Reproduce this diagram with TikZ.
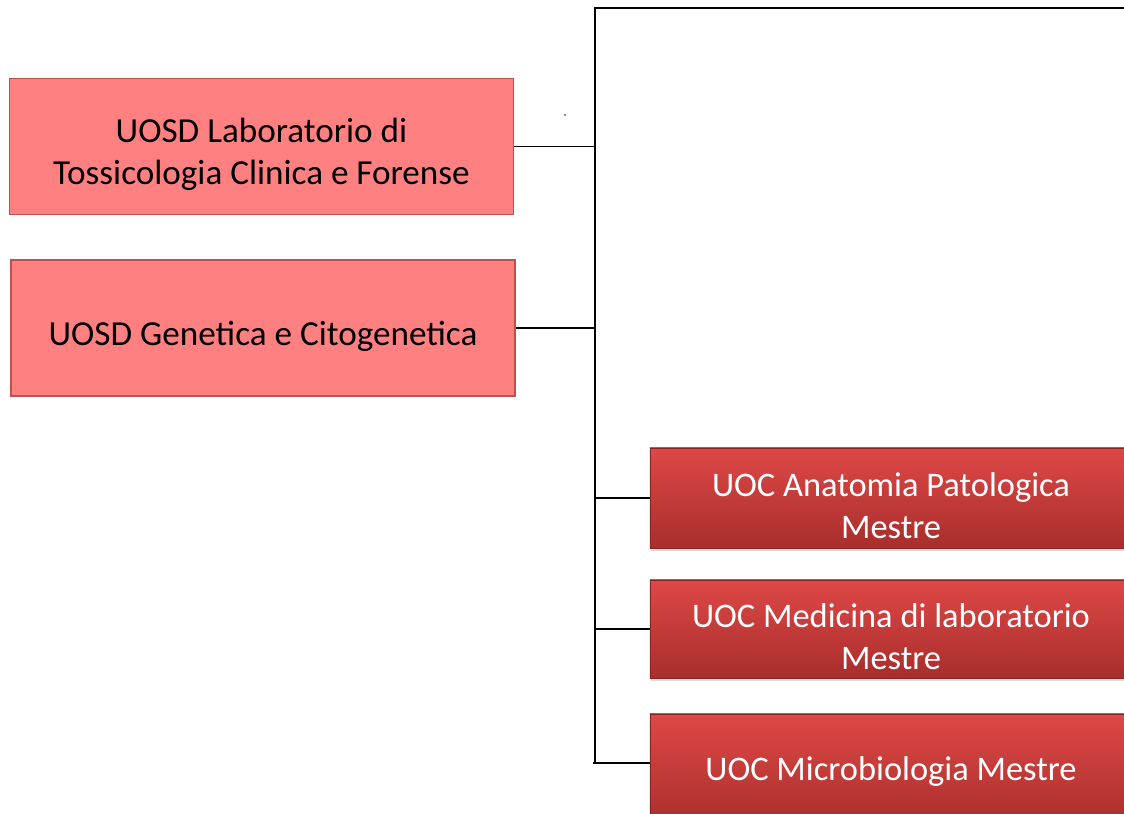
\documentclass[tikz,border=0pt]{standalone}
\usepackage{fontspec}
\setmainfont{Carlito}
\usetikzlibrary{positioning, shadows}

\definecolor{pinkfill}{RGB}{255,128,128}
\definecolor{pinkline}{RGB}{192,80,77}
\definecolor{redtop}{RGB}{222,72,70}
\definecolor{redbot}{RGB}{168,46,44}
\definecolor{dotblue}{RGB}{70,110,190}

% extra room above the first line
\newcommand{\lift}{\rule{0pt}{1.15em}}

\tikzset{
    pinkbox/.style={draw=pinkline, line width=1.2pt, fill=pinkfill, align=center,
        minimum width=12.6cm, minimum height=3.4cm, font=\fontsize{25}{30}\selectfont},
    redbox/.style={draw=redbot!80!black, line width=0.4pt, top color=redtop, bottom color=redbot,
        text=white, align=center, minimum width=12.05cm, minimum height=2.5cm,
        font=\fontsize{24.5}{30}\selectfont,
        drop shadow={opacity=0.3, shadow xshift=0.3mm, shadow yshift=-0.8mm}},
    link/.style={line width=1.2pt, black}
}

\begin{document}
\begin{tikzpicture}[x=0.025cm, y=-0.025cm]
    \useasboundingbox (0,0) rectangle (1124,814);
    \clip (0,0) rectangle (1124,814);

    % Left boxes
    \node[pinkbox] (tox) at (261.5,146.5) {\lift UOSD Laboratorio di\\Tossicologia Clinica e Forense};
    \node[pinkbox] (gen) at (263,328) {\lift UOSD Genetica e Citogenetica};

    % Right boxes
    \node[redbox] (anat) at (891,498) {\lift UOC Anatomia Patologica\\Mestre};
    \node[redbox, minimum height=2.45cm] (medi) at (891,629) {\lift UOC Medicina di laboratorio\\Mestre};
    \node[redbox, minimum height=2.85cm] (micro) at (891,771) {UOC Microbiologia Mestre};

    % Trunk
    \coordinate (top) at (595,8);
    \coordinate (topend) at (1130,8);
    \coordinate (bottom) at (595,762);
    \draw[link] (topend) -- (top) -- (bottom);

    % Branches
    \draw[link] (tox.east) -- (tox.east -| top);
    \draw[link] (gen.east) -- (gen.east -| top);
    \draw[link] (top |- anat.west) -- (anat.west);
    \draw[link] (top |- medi.west) -- (medi.west);
    \draw[link] (593,763) coordinate (mstart) -- (mstart -| micro.west);

    % Stray dot
    \fill[dotblue] (565,115) circle (1.2);
\end{tikzpicture}
\end{document}
